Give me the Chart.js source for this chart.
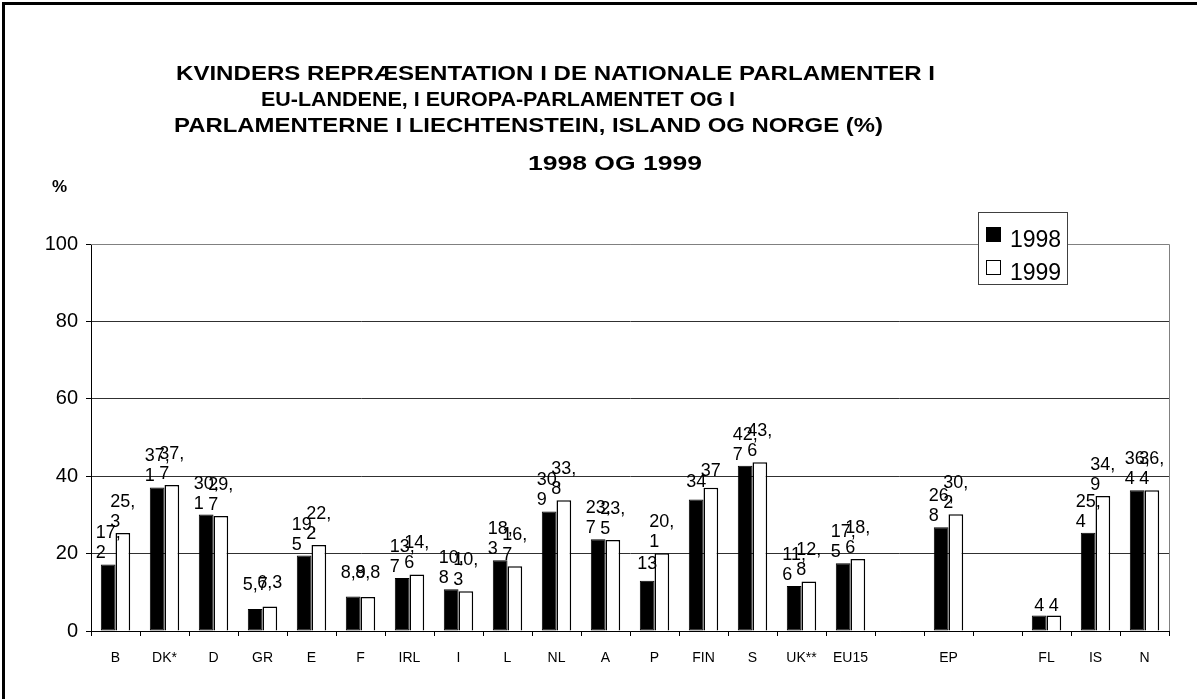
<!DOCTYPE html>
<html>
<head>
<meta charset="utf-8">
<script src="https://cdn.jsdelivr.net/npm/chart.js@4/dist/chart.umd.min.js"></script>
<style>
    html, body { margin: 0; padding: 0; background: #fff; overflow: hidden; }
    #frame { position: absolute; left: 2px; top: 2px; width: 1300px; height: 800px; border: 3px solid #000; }
    #chart { position: absolute; left: 0; top: 0; }
</style>
</head>
<body>
<div id="frame"></div>
<canvas id="chart" width="1197" height="699"></canvas>
<script>
// ============================================
// DATA
// ============================================

const categories = ['B', 'DK*', 'D', 'GR', 'E', 'F', 'IRL', 'I', 'L', 'NL', 'A', 'P', 'FIN', 'S', 'UK**', 'EU15', '', 'EP', '', 'FL', 'IS', 'N'];
const values1998 = [17.2, 37.1, 30.1, 5.7, 19.5, 8.9, 13.7, 10.8, 18.3, 30.9, 23.7, 13, 34, 42.7, 11.6, 17.5, null, 26.8, null, 4, 25.4, 36.4];
const values1999 = [25.3, 37.7, 29.7, 6.3, 22.2, 8.8, 14.6, 10.3, 16.7, 33.8, 23.5, 20.1, 37, 43.6, 12.8, 18.6, null, 30.2, null, 4, 34.9, 36.4];
const seriesNames = ['1998', '1999'];
const yTicks = [0, 20, 40, 60, 80, 100];

const titleLines = [
    'KVINDERS REPRÆSENTATION I DE NATIONALE PARLAMENTER I',
    'EU-LANDENE, I EUROPA-PARLAMENTET OG I',
    'PARLAMENTERNE I LIECHTENSTEIN, ISLAND OG NORGE (%)',
    '1998 OG 1999'
];
const yUnit = '%';

const FONT = 'Arial, "Liberation Sans", sans-serif';

// ============================================
// HELPERS
// ============================================

function formatValue(v) {
    return String(v).replace('.', ',');
}

function labelLines(text) {
    // long labels wrap after the comma, like the original
    if (text.length > 3 && text.includes(',')) {
        const k = text.indexOf(',') + 1;
        return [text.slice(0, k), text.slice(k)];
    }
    return [text];
}

// ============================================
// PLUGINS
// ============================================

const titlePlugin = {
    id: 'titleLines',
    afterDraw(chart) {
        const ctx = chart.ctx;
        // [left, baseline, width] for each title row
        const place = [[176, 80, 759], [261, 106, 474], [174, 132, 709], [528, 170, 174]];
        ctx.save();
        ctx.fillStyle = '#000';
        ctx.font = 'bold 20px ' + FONT;
        ctx.textBaseline = 'alphabetic';
        titleLines.forEach((line, i) => {
            const [x, y, w] = place[i];
            const natural = ctx.measureText(line).width;
            ctx.save();
            ctx.translate(x, y);
            ctx.scale(w / natural, 1);
            ctx.fillText(line, 0, 0);
            ctx.restore();
        });
        ctx.font = 'bold 17px ' + FONT;
        ctx.fillText(yUnit, 52, 192);
        ctx.restore();
    }
};

const barLabelPlugin = {
    id: 'barLabels',
    afterDatasetsDraw(chart) {
        const ctx = chart.ctx;
        ctx.save();
        ctx.fillStyle = '#000';
        ctx.font = '18px ' + FONT;
        ctx.textBaseline = 'alphabetic';
        ctx.textAlign = 'left';

        chart.data.datasets.forEach((ds, di) => {
            const meta = chart.getDatasetMeta(di);
            meta.data.forEach((bar, i) => {
                const v = ds.data[i];
                if (v === null || v === undefined) {
                    return;
                }
                const text = formatValue(v);
                const lines = labelLines(text);
                const blockW = Math.max(...lines.map(l => ctx.measureText(l).width));
                const left = bar.x - blockW / 2;
                let gap;
                if (lines.length > 1) {
                    gap = 6;
                } else {
                    gap = 5 + (text.length - 1) * 7;
                }
                const lastY = bar.y - gap;
                for (let k = 0; k < lines.length; k++) {
                    const y = lastY - (lines.length - 1 - k) * 20;
                    ctx.fillText(lines[k], left, y);
                }
            });
        });
        ctx.restore();
    }
};

const framePlugin = {
    id: 'plotFrame',
    afterDatasetsDraw(chart) {
        const { ctx, chartArea } = chart;
        ctx.save();
        ctx.strokeStyle = '#808080';
        ctx.lineWidth = 1;
        ctx.beginPath();
        ctx.moveTo(chartArea.left, chartArea.top + 0.5);
        ctx.lineTo(chartArea.right + 0.5, chartArea.top + 0.5);
        ctx.lineTo(chartArea.right + 0.5, chartArea.bottom);
        ctx.stroke();
        ctx.restore();
    }
};

const legendPlugin = {
    id: 'boxLegend',
    afterDraw(chart) {
        const ctx = chart.ctx;
        const box = { x: 978, y: 212, w: 89, h: 72 };
        ctx.save();
        ctx.fillStyle = '#fff';
        ctx.fillRect(box.x, box.y, box.w, box.h);
        ctx.strokeStyle = '#404040';
        ctx.lineWidth = 1;
        ctx.strokeRect(box.x + 0.5, box.y + 0.5, box.w, box.h);

        ctx.font = '23px ' + FONT;
        ctx.textBaseline = 'alphabetic';
        chart.data.datasets.forEach((ds, i) => {
            const rowTop = box.y + 15 + i * 33;
            ctx.fillStyle = ds.backgroundColor;
            ctx.fillRect(box.x + 8.5, rowTop + 0.5, 14, 14);
            ctx.strokeStyle = '#000';
            ctx.strokeRect(box.x + 8.5, rowTop + 0.5, 14, 14);
            ctx.fillStyle = '#000';
            ctx.fillText(ds.label, box.x + 32, rowTop + 20);
        });
        ctx.restore();
    }
};

// ============================================
// CHART
// ============================================

const ctx = document.getElementById('chart').getContext('2d');

new Chart(ctx, {
    type: 'bar',

    data: {
        labels: categories,

        datasets: [
            {
                label: seriesNames[0],
                data: values1998,
                backgroundColor: '#000',
                borderColor: '#000',
                borderWidth: 1,
                borderSkipped: false
            },
            {
                label: seriesNames[1],
                data: values1999,
                backgroundColor: '#fff',
                borderColor: '#000',
                borderWidth: 1.5,
                borderSkipped: 'bottom'
            }
        ]
    },

    options: {
        responsive: false,
        animation: false,
        categoryPercentage: 0.6,
        barPercentage: 1.0,

        layout: {
            padding: { left: 0, right: 28, top: 244, bottom: 0 }
        },

        plugins: {
            legend: { display: false },
            tooltip: { enabled: false }
        },

        scales: {
            x: {
                afterFit(scale) {
                    scale.height = 68;
                },
                grid: {
                    offset: true,
                    drawOnChartArea: false,
                    drawTicks: true,
                    tickLength: 5,
                    tickColor: '#000'
                },
                border: { display: true, color: '#000', width: 1 },
                ticks: {
                    color: '#000',
                    padding: 14,
                    autoSkip: false,
                    maxRotation: 0,
                    font: { family: FONT, size: 14 }
                }
            },

            y: {
                min: yTicks[0],
                max: yTicks[yTicks.length - 1],
                afterFit(scale) {
                    scale.width = 91;
                },
                afterBuildTicks(scale) {
                    scale.ticks = yTicks.map(v => ({ value: v }));
                },
                grid: {
                    color(c) {
                        return c.tick && c.tick.value === 100 ? '#808080' : '#303030';
                    },
                    tickLength: 5,
                    tickColor: '#000'
                },
                border: { display: true, color: '#000', width: 1 },
                ticks: {
                    color: '#000',
                    padding: 8,
                    font: { family: FONT, size: 20 }
                }
            }
        }
    },

    plugins: [framePlugin, barLabelPlugin, titlePlugin, legendPlugin]
});
</script>
</body>
</html>
